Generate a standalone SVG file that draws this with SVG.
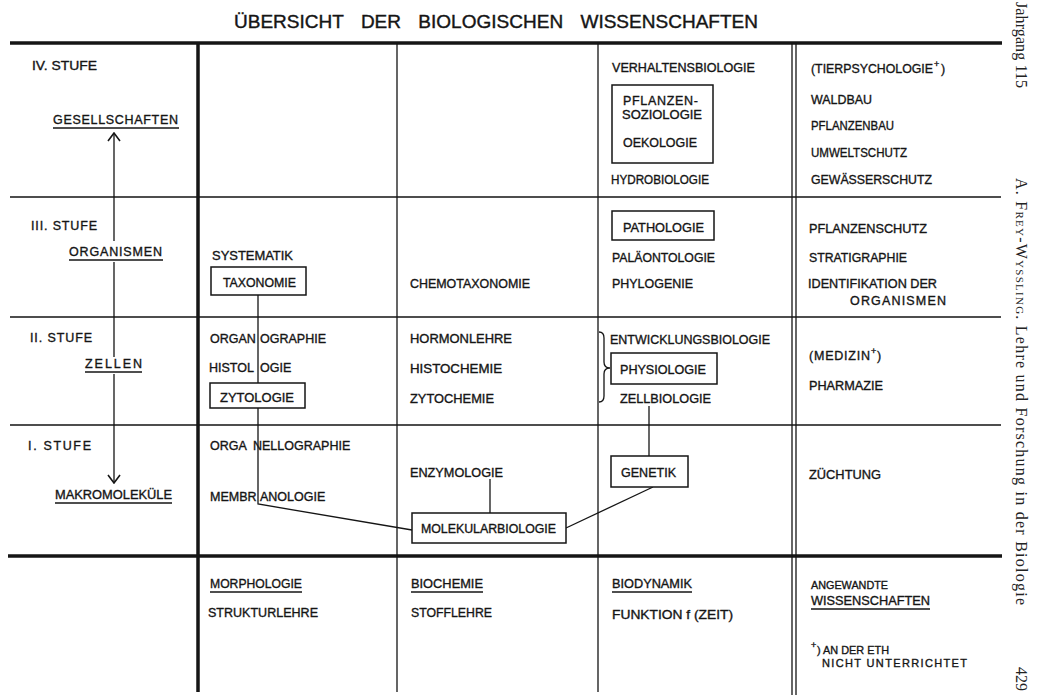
<svg xmlns="http://www.w3.org/2000/svg" width="1041" height="697" viewBox="0 0 1041 697">
  <style>
    .t { font-family: "Liberation Sans", Arial, sans-serif; font-size: 12.5px; fill: #151515; stroke: #151515; stroke-width: 0.35px; }
    .sm { font-size: 11px; }
    .sup { font-size: 9px; }
    .title { font-family: "Liberation Sans", Arial, sans-serif; font-size: 19px; fill: #151515; stroke: #151515; stroke-width: 0.4px; word-spacing: 12px; }
    .margin { font-family: "Liberation Serif", "Times New Roman", serif; font-size: 16px; fill: #222; }
    .ln { stroke: #151515; stroke-width: 1.3; fill: none; }
    .thick { stroke: #151515; stroke-width: 3.5; fill: none; }
    .ul { stroke: #151515; stroke-width: 1.5; }
    .box { fill: #fff; stroke: #151515; stroke-width: 1.5; }
  </style>
  <defs>
    <marker id="chev" viewBox="0 0 10 14" refX="9" refY="7" markerWidth="10" markerHeight="14" markerUnits="userSpaceOnUse" orient="auto">
      <path d="M1,1 L9,7 L1,13" fill="none" stroke="#151515" stroke-width="1.6"/>
    </marker>
  </defs>

  <rect width="1041" height="697" fill="#fff"/>

  <!-- heading -->
  <text id="title" class="title" x="234" y="28" textLength="524">ÜBERSICHT  DER  BIOLOGISCHEN  WISSENSCHAFTEN</text>

  <!-- table rules -->
  <g id="grid">
    <path class="thick" d="M10,43 H1002"/>
    <path class="thick" d="M8,556 H1002" stroke-width="4"/>
    <path class="ln" d="M10,197 H1001 M10,317 H1001 M10,425 H1001"/>
    <path class="thick" d="M198,43 V692" stroke-width="3"/>
    <path class="ln" d="M397,43 V692 M598,43 V692"/>
    <path class="ln" d="M792,43 V695 M796,43 V695"/>
  </g>

  <!-- connectors -->
  <g id="connectors">
    <path class="ln" d="M258,295 V504 L412,530"/>
    <path class="ln" d="M649,406 V456"/>
    <path class="ln" d="M653,487 L566,528"/>
    <path class="ln" d="M490,479 V513"/>
    <path class="ln" d="M114,241 V133" stroke-width="1.4" marker-end="url(#chev)"/>
    <path class="ln" d="M114,262 V357" stroke-width="1.4"/>
    <path class="ln" d="M114,374 V483" stroke-width="1.4" marker-end="url(#chev)"/>
    <path class="ln" d="M599,332 Q604,332 604,338 V362 Q604,368 610,368 Q604,368 604,374 V396 Q604,402 599,402" stroke-width="1.4"/>
  </g>

  <!-- levels -->
  <g id="level-4">
    <text class="t" x="32" y="70" textLength="65" lengthAdjust="spacingAndGlyphs">IV. STUFE</text>
    <text class="t" x="53" y="124" textLength="125">GESELLSCHAFTEN</text>
    <line class="ul" x1="53" y1="128" x2="179" y2="128"/>
  </g>
  <g id="level-3">
    <text class="t" x="31" y="230" textLength="66">III. STUFE</text>
    <text class="t" x="69" y="256" textLength="93">ORGANISMEN</text>
    <line class="ul" x1="69" y1="260" x2="163" y2="260"/>
  </g>
  <g id="level-2">
    <text class="t" x="30" y="342" textLength="62">II. STUFE</text>
    <text class="t" x="85" y="368" textLength="57">ZELLEN</text>
    <line class="ul" x1="85" y1="372" x2="142" y2="372"/>
  </g>
  <g id="level-1">
    <text class="t" x="28" y="450" textLength="63">I. STUFE</text>
    <text class="t" x="55" y="499" textLength="117" lengthAdjust="spacingAndGlyphs">MAKROMOLEKÜLE</text>
    <line class="ul" x1="55" y1="503" x2="172" y2="503"/>
  </g>

  <!-- morphology column: the connector runs through the gap in each word -->
  <g id="systematik"><text class="t" x="212" y="260" textLength="81" lengthAdjust="spacingAndGlyphs">SYSTEMATIK</text></g>
  <g id="taxonomie">
    <rect class="box" x="211" y="267" width="95" height="28"/>
    <text class="t" x="223" y="287" textLength="73" lengthAdjust="spacingAndGlyphs">TAXONOMIE</text>
  </g>
  <g id="organographie"><text class="t" x="210" y="343">ORGAN<tspan x="260">OGRAPHIE</tspan></text></g>
  <g id="histologie"><text class="t" x="209" y="372">HISTOL<tspan x="260">OGIE</tspan></text></g>
  <g id="zytologie">
    <rect class="box" x="210" y="383" width="95" height="25"/>
    <text class="t" x="220" y="402" textLength="74" lengthAdjust="spacingAndGlyphs">ZYTOLOGIE</text>
  </g>
  <g id="organellographie"><text class="t" x="210" y="450">ORGA<tspan x="253">NELLOGRAPHIE</tspan></text></g>
  <g id="membranologie"><text class="t" x="210" y="501">MEMBR<tspan x="260">ANOLOGIE</tspan></text></g>

  <!-- biochemistry column -->
  <g id="chemotaxonomie"><text class="t" x="410" y="288" textLength="120" lengthAdjust="spacingAndGlyphs">CHEMOTAXONOMIE</text></g>
  <g id="hormonlehre"><text class="t" x="410" y="343" textLength="102" lengthAdjust="spacingAndGlyphs">HORMONLEHRE</text></g>
  <g id="histochemie"><text class="t" x="410" y="373" textLength="92" lengthAdjust="spacingAndGlyphs">HISTOCHEMIE</text></g>
  <g id="zytochemie"><text class="t" x="410" y="403" textLength="84" lengthAdjust="spacingAndGlyphs">ZYTOCHEMIE</text></g>
  <g id="enzymologie"><text class="t" x="410" y="477" textLength="93" lengthAdjust="spacingAndGlyphs">ENZYMOLOGIE</text></g>
  <g id="molekularbiologie">
    <rect class="box" x="412" y="513" width="154" height="30"/>
    <text class="t" x="421" y="533" textLength="135" lengthAdjust="spacingAndGlyphs">MOLEKULARBIOLOGIE</text>
  </g>

  <!-- biodynamics column -->
  <g id="verhaltensbiologie"><text class="t" x="612" y="72" textLength="143" lengthAdjust="spacingAndGlyphs">VERHALTENSBIOLOGIE</text></g>
  <g id="oekologie">
    <rect class="box" x="612" y="85" width="101" height="78"/>
    <text class="t" x="623" y="105" textLength="75">PFLANZEN-</text>
    <text class="t" x="622" y="119" textLength="80" lengthAdjust="spacingAndGlyphs">SOZIOLOGIE</text>
    <text class="t" x="623" y="147" textLength="74" lengthAdjust="spacingAndGlyphs">OEKOLOGIE</text>
  </g>
  <g id="hydrobiologie"><text class="t" x="611" y="184" textLength="98" lengthAdjust="spacingAndGlyphs">HYDROBIOLOGIE</text></g>
  <g id="pathologie">
    <rect class="box" x="612" y="211" width="102" height="29"/>
    <text class="t" x="623" y="232" textLength="81" lengthAdjust="spacingAndGlyphs">PATHOLOGIE</text>
  </g>
  <g id="palaeontologie"><text class="t" x="612" y="262" textLength="103" lengthAdjust="spacingAndGlyphs">PALÄONTOLOGIE</text></g>
  <g id="phylogenie"><text class="t" x="612" y="288" textLength="81" lengthAdjust="spacingAndGlyphs">PHYLOGENIE</text></g>
  <g id="entwicklungsbiologie"><text class="t" x="610" y="344" textLength="160" lengthAdjust="spacingAndGlyphs">ENTWICKLUNGSBIOLOGIE</text></g>
  <g id="physiologie">
    <rect class="box" x="611" y="353" width="106" height="31"/>
    <text class="t" x="620" y="374" textLength="86" lengthAdjust="spacingAndGlyphs">PHYSIOLOGIE</text>
  </g>
  <g id="zellbiologie"><text class="t" x="620" y="403" textLength="91" lengthAdjust="spacingAndGlyphs">ZELLBIOLOGIE</text></g>
  <g id="genetik">
    <rect class="box" x="611" y="456" width="77" height="31"/>
    <text class="t" x="621" y="477" textLength="55">GENETIK</text>
  </g>

  <!-- applied sciences column -->
  <g id="tierpsychologie">
    <text class="t" x="811" y="73" textLength="122" lengthAdjust="spacingAndGlyphs">(TIERPSYCHOLOGIE</text>
    <text class="t sup" x="934" y="67">+</text>
    <text class="t" x="941" y="73">)</text>
  </g>
  <g id="waldbau"><text class="t" x="811" y="104" textLength="61" lengthAdjust="spacingAndGlyphs">WALDBAU</text></g>
  <g id="pflanzenbau"><text class="t" x="811" y="130" textLength="83" lengthAdjust="spacingAndGlyphs">PFLANZENBAU</text></g>
  <g id="umweltschutz"><text class="t" x="811" y="157" textLength="96" lengthAdjust="spacingAndGlyphs">UMWELTSCHUTZ</text></g>
  <g id="gewaesserschutz"><text class="t" x="811" y="184" textLength="121" lengthAdjust="spacingAndGlyphs">GEWÄSSERSCHUTZ</text></g>
  <g id="pflanzenschutz"><text class="t" x="809" y="233" textLength="118" lengthAdjust="spacingAndGlyphs">PFLANZENSCHUTZ</text></g>
  <g id="stratigraphie"><text class="t" x="809" y="262" textLength="98" lengthAdjust="spacingAndGlyphs">STRATIGRAPHIE</text></g>
  <g id="identifikation">
    <text class="t" x="808" y="288" textLength="129" lengthAdjust="spacingAndGlyphs">IDENTIFIKATION DER</text>
    <text class="t" x="850" y="305" textLength="96">ORGANISMEN</text>
  </g>
  <g id="medizin">
    <text class="t" x="809" y="360" textLength="61">(MEDIZIN</text>
    <text class="t sup" x="871" y="354">+</text>
    <text class="t" x="877" y="360">)</text>
  </g>
  <g id="pharmazie"><text class="t" x="809" y="390" textLength="74" lengthAdjust="spacingAndGlyphs">PHARMAZIE</text></g>
  <g id="zuechtung"><text class="t" x="809" y="479" textLength="72" lengthAdjust="spacingAndGlyphs">ZÜCHTUNG</text></g>

  <!-- column footers -->
  <g id="morphologie">
    <text class="t" x="210" y="588" textLength="92" lengthAdjust="spacingAndGlyphs">MORPHOLOGIE</text>
    <line class="ul" x1="210" y1="592" x2="302" y2="592"/>
    <text class="t" x="208" y="617" textLength="110" lengthAdjust="spacingAndGlyphs">STRUKTURLEHRE</text>
  </g>
  <g id="biochemie">
    <text class="t" x="411" y="588" textLength="72" lengthAdjust="spacingAndGlyphs">BIOCHEMIE</text>
    <line class="ul" x1="411" y1="592" x2="483" y2="592"/>
    <text class="t" x="411" y="617" textLength="81" lengthAdjust="spacingAndGlyphs">STOFFLEHRE</text>
  </g>
  <g id="biodynamik">
    <text class="t" x="612" y="588" textLength="80" lengthAdjust="spacingAndGlyphs">BIODYNAMIK</text>
    <line class="ul" x1="612" y1="592" x2="692" y2="592"/>
    <text class="t" x="612" y="619" textLength="121" lengthAdjust="spacingAndGlyphs">FUNKTION f (ZEIT)</text>
  </g>
  <g id="angewandte">
    <text class="t sm" x="811" y="589" textLength="77" lengthAdjust="spacingAndGlyphs">ANGEWANDTE</text>
    <text class="t" x="811" y="605" textLength="119" lengthAdjust="spacingAndGlyphs">WISSENSCHAFTEN</text>
    <line class="ul" x1="811" y1="609" x2="930" y2="609"/>
  </g>
  <g id="footnote">
    <text class="t sup" x="811" y="648">+</text>
    <text class="t sm" x="817" y="654" textLength="72" lengthAdjust="spacingAndGlyphs">) AN DER ETH</text>
    <text class="t sm" x="822" y="667" textLength="145">NICHT UNTERRICHTET</text>
  </g>

  <!-- running head along the page edge -->
  <g id="running-head">
    <text class="margin" transform="translate(1016,2) rotate(90)" x="0" y="0" textLength="86">Jahrgang 115</text>
    <text class="margin" transform="translate(1016,178) rotate(90)" x="0" y="0" textLength="427">A. <tspan font-variant="small-caps">Frey-Wyssling</tspan>. Lehre und Forschung in der Biologie</text>
    <text class="margin" transform="translate(1016,667) rotate(90)" x="0" y="0">429</text>
  </g>
</svg>
